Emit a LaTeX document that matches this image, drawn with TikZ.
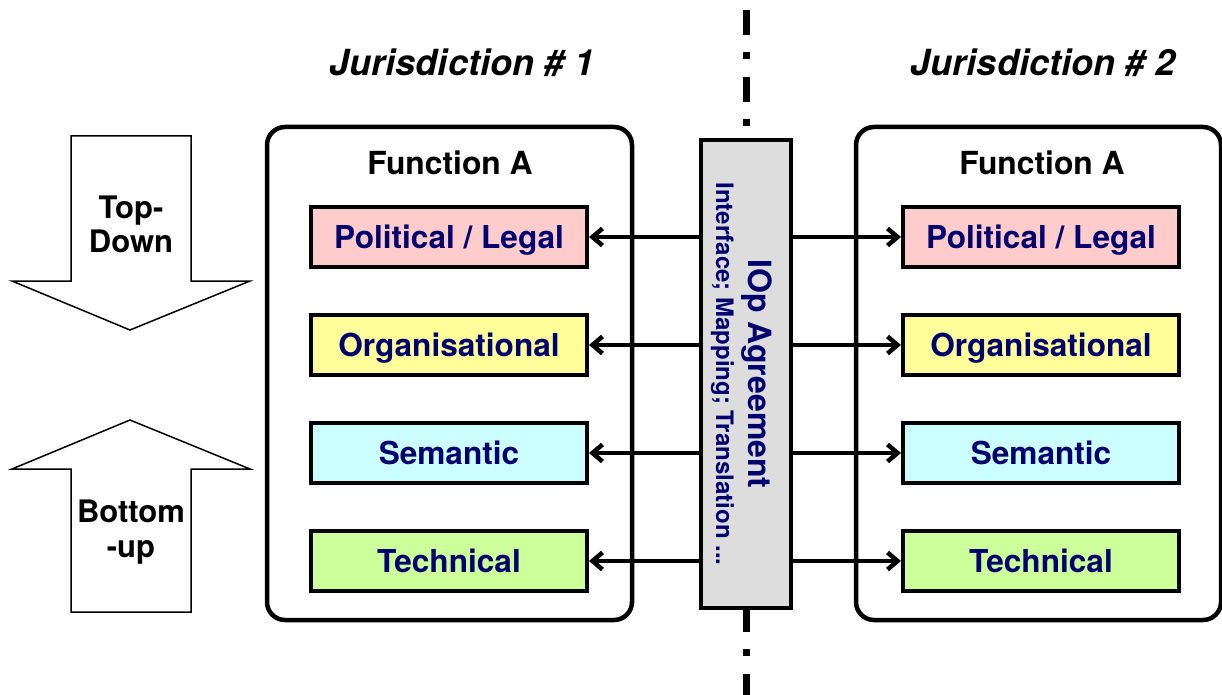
\documentclass[tikz,border=0pt]{standalone}
\usepackage{fontspec}
\setmainfont{TeX Gyre Heros}
\usetikzlibrary{arrows.meta}
\definecolor{navy}{RGB}{0,0,110}
\definecolor{polfill}{RGB}{255,204,204}
\definecolor{orgfill}{RGB}{255,255,153}
\definecolor{semfill}{RGB}{204,255,255}
\definecolor{techfill}{RGB}{204,255,153}
\definecolor{agreegray}{RGB}{221,221,221}
\begin{document}
\begin{tikzpicture}[x=1pt,y=-1pt,
  juris/.style={font=\fontsize{36}{40}\selectfont\bfseries\itshape, anchor=base, inner sep=0pt},
  funcbox/.style={draw, line width=4.5pt, rounded corners=18pt, minimum width=365pt, minimum height=493pt, inner sep=0pt},
  functitle/.style={font=\fontsize{31.8}{36}\selectfont\bfseries, anchor=base, inner sep=0pt},
  layer/.style={draw, line width=4pt, minimum width=276pt, minimum height=60pt, inner sep=0pt,
    text=navy, font=\fontsize{31.6}{36}\selectfont\bfseries, text height=22.5pt, text depth=0pt},
  agree/.style={draw, line width=4pt, fill=agreegray, minimum width=90pt, minimum height=468pt, inner sep=0pt},
  agreetext/.style={rotate=-90, anchor=base, inner sep=0pt, text=navy},
  conn/.style={line width=4.5pt, -{Straight Barb[length=10pt,width=17pt]}},
  bigarrow/.style={draw, line width=1.5pt, fill=white},
  dirtext/.style={font=\fontsize{31}{36}\selectfont\bfseries, anchor=base, inner sep=0pt},
  dashline/.style={line width=7pt, dash pattern=on 25pt off 17pt on 7pt off 18pt}
]
\path[use as bounding box] (0,0) rectangle (1222,695);

% direction arrows on the left
\draw[bigarrow] (71,136) -- (191,136) -- (191,281) -- (250,281) -- (130,330) -- (12,281) -- (71,281) -- cycle;
\draw[bigarrow] (130,420) -- (250,469) -- (191,469) -- (191,612) -- (71,612) -- (71,469) -- (12,469) -- cycle;
\node[dirtext] (td1) at (131,218) {Top-};
\node[dirtext] (td2) at (131,252) {Down};
\node[dirtext] (bu1) at (131,522) {Bottom};
\node[dirtext] (bu2) at (131,557) {-up};

% jurisdiction headings
\node[juris] (j1) at (462,76) {Jurisdiction \# 1};
\node[juris] (j2) at (1043,76) {Jurisdiction \# 2};

% function containers
\node[funcbox] (fa) at (449.5,373.5) {};
\node[funcbox] (fb) at (1038.5,373.5) {};
\node[functitle] (fat) at (450,175) {Function A};
\node[functitle] (fbt) at (1042,175) {Function A};

% interoperability layers
\node[layer, fill=polfill]  (pl1) at (449,237) {Political / Legal};
\node[layer, fill=orgfill]  (og1) at (449,345) {Organisational};
\node[layer, fill=semfill]  (se1) at (449,453) {Semantic};
\node[layer, fill=techfill] (te1) at (449,561) {Technical};
\node[layer, fill=polfill]  (pl2) at (1041,237) {Political / Legal};
\node[layer, fill=orgfill]  (og2) at (1041,345) {Organisational};
\node[layer, fill=semfill]  (se2) at (1041,453) {Semantic};
\node[layer, fill=techfill] (te2) at (1041,561) {Technical};

% agreement bar with the border line
\node[agree] (ag) at (746,374) {};
\coordinate (ltop) at (746,10);
\coordinate (lbot) at (746,695);
\draw[dashline] (ltop) -- (ag.north);
\draw[dashline, dash phase=3pt] (ag.south) -- (lbot);
\node[agreetext, font=\fontsize{32}{36}\selectfont\bfseries] (agt1) at (748,374) {IOp Agreement};
\node[agreetext, font=\fontsize{24}{28}\selectfont\bfseries] (agt2) at (716,374) {Interface; Mapping; Translation ...};

% links from the agreement to each layer
\foreach \n in {pl1,og1,se1,te1}{
  \draw[conn] (ag.west |- \n) -- (\n.east);
}
\foreach \n in {pl2,og2,se2,te2}{
  \draw[conn] (ag.east |- \n) -- (\n.west);
}
\end{tikzpicture}
\end{document}
